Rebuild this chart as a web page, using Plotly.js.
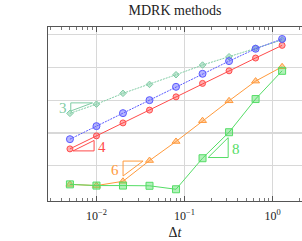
<!DOCTYPE html>
<html><head><meta charset="utf-8">
<script src="https://cdn.plot.ly/plotly-3.0.1.min.js"></script>
<style>html,body{margin:0;padding:0;background:#fff;}#chart{width:302px;height:241px;}</style>
</head><body><div id="chart"></div>
<script>
// time step sizes
const dt = [0.005, 0.01, 0.02, 0.04, 0.08, 0.16, 0.32, 0.64, 1.28];
// errors per method (y axis has no labels)
const errOrder3 = [6.2e-8, 4.3e-7, 4.2e-6, 2.75e-5, 2.1e-4, 1.62e-3, 9.3e-3, 5.8e-2, 3.2e-1];
const errBlue   = [2.7e-10, 4.2e-9, 6.5e-8, 1.0e-6, 1.66e-5, 2.57e-4, 3.7e-3, 5.0e-2, 3.9e-1];
const errRed    = [3.5e-11, 5.4e-10, 8.3e-9, 1.23e-7, 2.0e-6, 3.4e-5, 4.8e-4, 7.1e-3, 1.02e-1];
const errOrder6 = [2.0e-14, 1.55e-14, 3.8e-14, 3.0e-12, 1.66e-10, 1.32e-8, 8.7e-7, 5.5e-5, 1.12e-3];
const errOrder8 = [2.0e-14, 1.55e-14, 1.55e-14, 1.48e-14, 7.1e-15, 4.9e-12, 1.17e-9, 1.26e-6, 4.8e-4];
// x tick labels
const xTickVals = [0.01, 0.1, 1];
const xTickText = ['10<sup>−2</sup>', '10<sup>−1</sup>', '10<sup>0</sup>'];
// slope triangles: bottom-left vertex, width in decades, order
const triX0 = [0.00511, 0.00542, 0.02004, 0.1854];
const triY0 = [1.02e-7, 2.29e-11, 1.17e-13, 5.69e-12];
const triW  = [0.247, 0.239, 0.227, 0.227];
const triOrder = [3, 4, 6, 8];
const triUpper = [true, false, true, false];
const triColor = ['#7fcca4', '#ff4b4b', '#ff9a3c', '#55dd66'];

const serif = "'Liberation Serif', 'DejaVu Serif', serif";
const minorVals = [];
for (const d of [1e-3, 1e-2, 1e-1, 1]) for (let k = 2; k <= 9; k++) minorVals.push(k * d);

function series(y, name, line, fill, symbol, size, dash) {
  return {x: dt, y: y, name: name, type: 'scatter', mode: 'lines+markers',
    line: {color: line, width: 1, dash: dash || 'solid'},
    marker: {symbol: symbol, size: size, color: fill, line: {color: line, width: 1}},
    hoverinfo: 'skip', showlegend: false};
}
const traces = [
  series(errOrder3, 'order3', '#7fcca4', 'rgba(127,204,164,0.5)', 'diamond', 5, '2px,1px'),
  series(errOrder6, 'order6', '#ff9a3c', 'rgba(255,154,60,0.45)', 'triangle-up', 7),
  series(errRed, 'red', '#ff4b4b', 'rgba(255,75,75,0.45)', 'circle', 6),
  series(errBlue, 'blue', '#5a5aff', 'rgba(90,90,255,0.45)', 'circle', 7, '2px,1px'),
  series(errOrder8, 'order8', '#55dd66', 'rgba(85,221,102,0.45)', 'square', 7),
];
const annotations = [];
for (let i = 0; i < triX0.length; i++) {
  const x0 = triX0[i], y0 = triY0[i];
  const x1 = x0 * Math.pow(10, triW[i]);
  const y1 = y0 * Math.pow(10, triW[i] * triOrder[i]);
  let xs, ys;
  if (triUpper[i]) { xs = [x0, x0, x1, x0]; ys = [y0, y1, y1, y0]; }
  else { xs = [x0, x1, x1, x0]; ys = [y0, y0, y1, y0]; }
  traces.push({x: xs, y: ys, type: 'scatter', mode: 'lines', line: {color: triColor[i], width: 1},
    hoverinfo: 'skip', showlegend: false});
  const ym = (Math.log10(y0) + Math.log10(y1)) / 2;
  annotations.push({
    x: triUpper[i] ? Math.log10(x0) : Math.log10(x1), y: ym, xref: 'x', yref: 'y',
    text: String(triOrder[i]), showarrow: false,
    xanchor: triUpper[i] ? 'right' : 'left', yanchor: 'middle',
    xshift: triUpper[i] ? -2 : 2, yshift: -1,
    font: {family: serif, size: 15, color: triColor[i]}
  });
}

const layout = {
  width: 302, height: 241,
  margin: {l: 48, r: 0, t: 27, b: 40},
  paper_bgcolor: '#fff', plot_bgcolor: '#fff',
  font: {family: serif},
  title: {text: 'MDRK methods', font: {family: serif, size: 14, color: '#222'},
    x: 175/302, xanchor: 'center', xref: 'container', y: 1 - 10/241, yref: 'container', yanchor: 'middle'},
  xaxis: {type: 'log', range: [-2.55, 0.333],
    tickmode: 'array', tickvals: xTickVals, ticktext: xTickText,
    ticks: 'inside', ticklen: 5, tickcolor: '#555', tickwidth: 1, ticklabelstandoff: 3,
    minor: {tickmode: 'array', tickvals: minorVals, ticks: 'inside', ticklen: 3, tickcolor: '#777', tickwidth: 1, showgrid: false},
    showline: true, linecolor: '#555', linewidth: 1.3, mirror: 'ticks',
    showgrid: true, gridcolor: '#d8d8d8', gridwidth: 1.3, zeroline: false,
    tickfont: {family: serif, size: 12, color: '#222'},
    title: {text: 'Δ<i>t</i>', font: {family: serif, size: 14, color: '#222'}, standoff: 5}},
  yaxis: {type: 'log', range: [-15.22, 0.687],
    tickmode: 'array', tickvals: [1e-12, 1e-9, 1e-6, 1e-3, 1],
    showticklabels: false, ticks: '',
    showline: true, linecolor: '#555', linewidth: 1.3, mirror: false,
    showgrid: true, gridcolor: '#d8d8d8', gridwidth: 1.3, zeroline: false},
  annotations: annotations
};
Plotly.newPlot('chart', traces, layout, {displayModeBar: false, staticPlot: true});
</script></body></html>
